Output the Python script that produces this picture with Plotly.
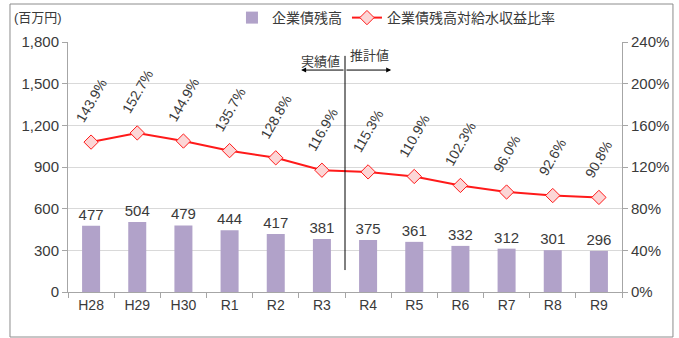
import plotly.graph_objects as go

categories = ["H28", "H29", "H30", "R1", "R2", "R3", "R4", "R5", "R6", "R7", "R8", "R9"]
debt_balance = [477, 504, 479, 444, 417, 381, 375, 361, 332, 312, 301, 296]
debt_ratio = [143.9, 152.7, 144.9, 135.7, 128.8, 116.9, 115.3, 110.9, 102.3, 96.0, 92.6, 90.8]
left_ticks = [0, 300, 600, 900, 1200, 1500, 1800]
right_ticks = [0, 40, 80, 120, 160, 200, 240]

FONT = "Liberation Sans, Noto Sans CJK JP, sans-serif"
TXT = "#3a3a3a"
AX = "#a6a6a6"

fig = go.Figure()
fig.add_trace(go.Bar(
    x=categories, y=debt_balance, name="企業債残高",
    marker=dict(color="#b1a2c9", line=dict(width=0)),
    text=[str(v) for v in debt_balance], textposition="outside", constraintext="none",
    textfont=dict(size=15, color=TXT, family=FONT), cliponaxis=False,
))
fig.add_trace(go.Scatter(
    x=categories, y=debt_ratio, name="企業債残高対給水収益比率", yaxis="y2",
    mode="lines+markers",
    line=dict(color="#ff1a1a", width=2),
    marker=dict(symbol="diamond", size=11, color="#fcd6d6", line=dict(color="#ff1a1a", width=1)),
))

for c, v in zip(categories, debt_ratio):
    fig.add_annotation(x=c, y=v, xref="x", yref="y2", text=f"{v:.1f}%",
                       textangle=-60, showarrow=False, yanchor="bottom", xanchor="center",
                       yshift=14, font=dict(size=14, color=TXT, family=FONT))

# divider between actual and estimated values
fig.add_shape(type="line", xref="x", yref="y", x0=5.5, x1=5.5, y0=158, y1=1700,
              line=dict(color="#000000", width=1))
fig.add_annotation(x=4.55, y=1598, ax=5.5, ay=1598, xref="x", yref="y", axref="x", ayref="y",
                   text="", showarrow=True, arrowhead=2, arrowsize=1, arrowwidth=1, arrowcolor="#000")
fig.add_annotation(x=6.5, y=1598, ax=5.5, ay=1598, xref="x", yref="y", axref="x", ayref="y",
                   text="", showarrow=True, arrowhead=2, arrowsize=1, arrowwidth=1, arrowcolor="#000")
fig.add_annotation(x=5.5, y=1660, xref="x", yref="y", text="実績値", showarrow=False,
                   xanchor="right", yanchor="middle", xshift=-3, font=dict(size=13, color=TXT, family=FONT))
fig.add_annotation(x=5.5, y=1705, xref="x", yref="y", text="推計値", showarrow=False,
                   xanchor="left", yanchor="middle", xshift=3, font=dict(size=13, color=TXT, family=FONT))

fig.add_annotation(x=-0.055, y=1.096, xref="paper", yref="paper", text="(百万円)", showarrow=False,
                   xanchor="center", yanchor="middle", font=dict(size=13, color=TXT, family=FONT))

# outer frame
fig.add_shape(type="rect", xref="paper", yref="paper", x0=-0.1047, x1=1.092, y0=-0.18, y1=1.152,
              line=dict(color="#8c8c8c", width=1))

fig.update_layout(
    width=679, height=338,
    margin=dict(l=68, r=57, t=42, b=46, autoexpand=False),
    paper_bgcolor="white", plot_bgcolor="white",
    font=dict(family=FONT, size=15, color=TXT),
    bargap=0.61,
    showlegend=True,
    legend=dict(orientation="h", x=0.592, xanchor="center", y=1.096, yanchor="middle",
                font=dict(size=14, color=TXT), itemwidth=30, bgcolor="rgba(0,0,0,0)"),
    xaxis=dict(type="category", range=[-0.5, 11.5], showline=True, linecolor=AX,
               ticks="outside", tickson="boundaries", ticklen=5, tickcolor=AX,
               tickfont=dict(size=14, color=TXT)),
    yaxis=dict(range=[0, 1800], tickvals=left_ticks, tickformat=",", showline=True, linecolor=AX,
               ticks="outside", ticklen=5, tickcolor=AX, gridcolor="#d9d9d9", zeroline=False,
               tickfont=dict(size=15, color=TXT)),
    yaxis2=dict(range=[0, 240], tickvals=right_ticks, ticktext=[f"{t}%" for t in right_ticks],
                overlaying="y", side="right",
                showline=True, linecolor=AX, ticks="outside", ticklen=5, tickcolor=AX,
                showgrid=False, zeroline=False, tickfont=dict(size=15, color=TXT)),
)

fig.write_html("out.html")
